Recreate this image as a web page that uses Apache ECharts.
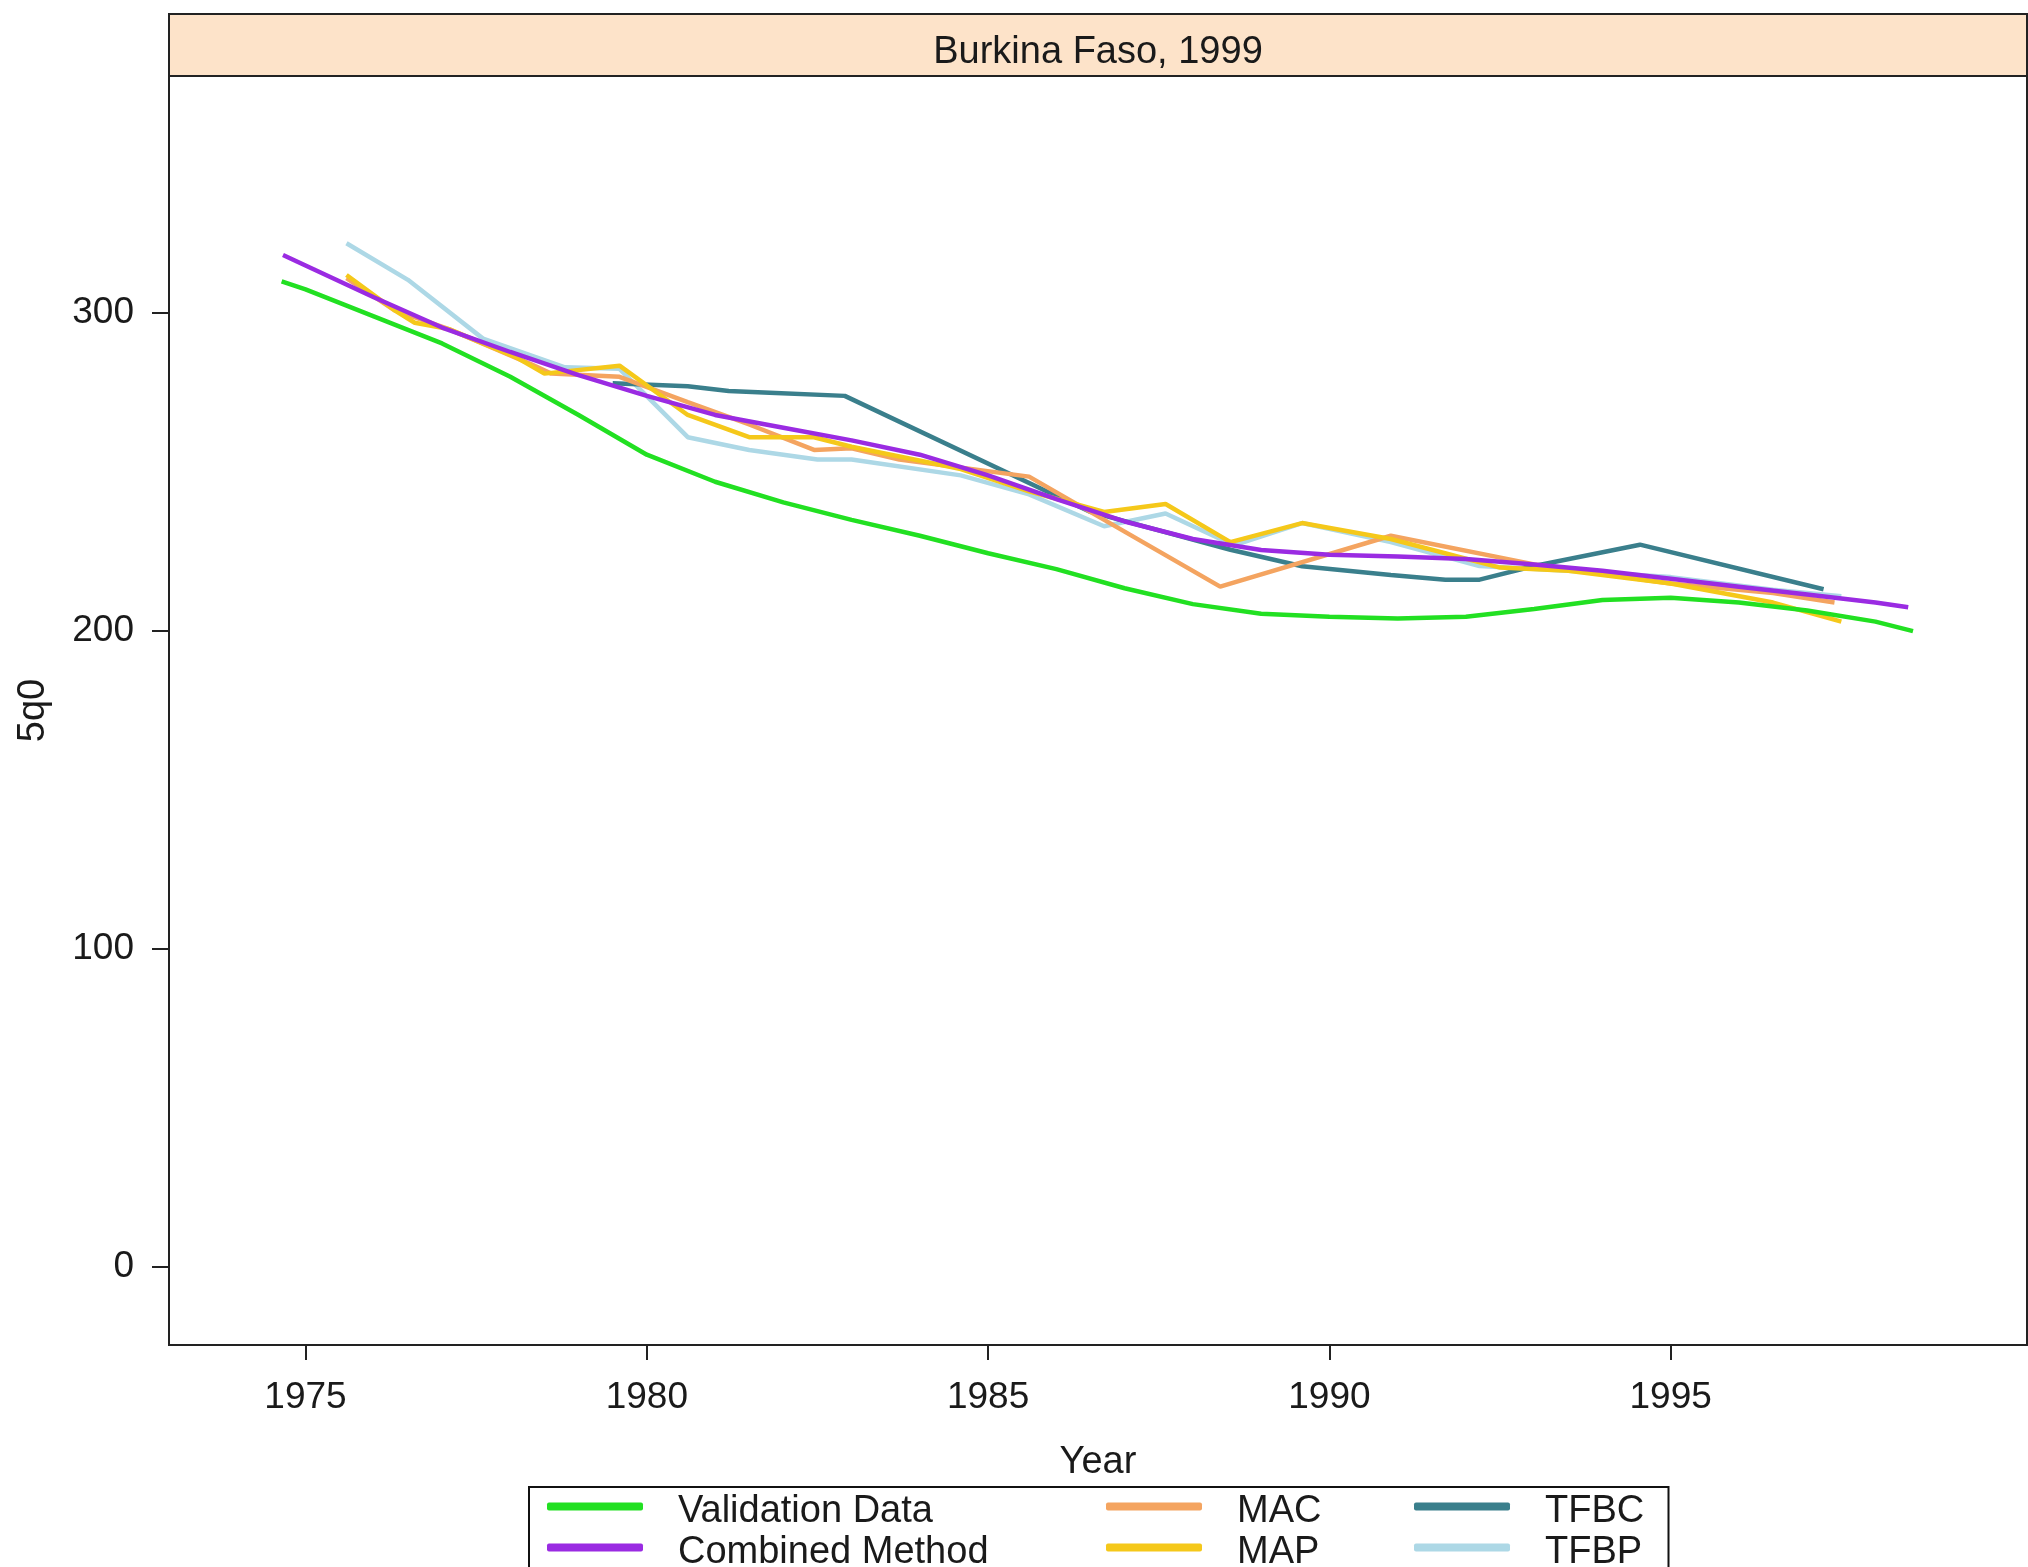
<!DOCTYPE html>
<html>
<head>
<meta charset="utf-8">
<script src="https://cdn.jsdelivr.net/npm/echarts@6/dist/echarts.min.js"></script>
<style>
html,body{margin:0;padding:0;background:#fff;}
#chart{width:2028px;height:1567px;}
</style>
</head>
<body>
<div id="chart"></div>
<script>
// ---------- DATA ----------
const panelTitle = 'Burkina Faso, 1999';
const xTickValues = [1975, 1980, 1985, 1990, 1995];
const yTickValues = [0, 100, 200, 300];

const validationYears  = [1974.65, 1975, 1976, 1977, 1978, 1979, 1980, 1981, 1982, 1983, 1984, 1985, 1986, 1987, 1988, 1989, 1990, 1991, 1992, 1993, 1994, 1995, 1996, 1997, 1998, 1998.55];
const validationValues = [310, 307.5, 299, 290.5, 280, 268, 255.5, 247, 240.5, 235, 230, 224.5, 219.5, 213.5, 208.5, 205.5, 204.5, 204, 204.5, 207, 209.8, 210.5, 209, 206.5, 203, 200];

const combinedYears  = [1974.67, 1975, 1976, 1977, 1978, 1979, 1980, 1981, 1982, 1983, 1984, 1985, 1986, 1987, 1988, 1989, 1990, 1991, 1992, 1993, 1994, 1995, 1996, 1997, 1998, 1998.48];
const combinedValues = [318.3, 315, 305, 295.5, 287.8, 280.5, 274, 268, 264, 260, 255.5, 249, 241.5, 234.5, 229, 225.5, 224, 223.5, 222.7, 221, 219, 216.5, 214, 211.5, 209, 207.5];

const macYears  = [1975.6, 1976.3, 1977.1, 1978.3, 1978.6, 1979.6, 1980.6, 1981.5, 1982.45, 1983.0, 1983.7, 1985.6, 1988.4, 1990.9, 1993.0, 1995.0, 1996.5, 1997.4];
const macValues = [311, 301, 295, 284, 281, 280, 272, 265, 257, 257.5, 254, 248.6, 214, 230, 221, 215, 212, 209];

const mapYears  = [1975.6, 1976.3, 1976.6, 1977.1, 1978.1, 1978.5, 1979.6, 1980.6, 1981.5, 1982.45, 1983.0, 1984.6, 1985.6, 1986.7, 1987.6, 1988.55, 1989.6, 1990.9, 1992.5, 1993.5, 1995.0, 1996.5, 1997.5];
const mapValues = [312, 301, 297, 295, 286, 281, 283.5, 268, 261, 261, 258, 251, 244, 237.5, 240, 228, 234, 229, 220, 219, 215, 209, 203];

const tfbcYears  = [1979.5, 1980.6, 1981.2, 1981.8, 1982.9, 1986.5, 1988.55, 1989.6, 1990.9, 1991.7, 1992.2, 1993.0, 1994.55, 1997.24];
const tfbcValues = [278, 277, 275.5, 275, 274, 237.5, 225.6, 220.4, 217.7, 216.2, 216.2, 220.5, 227.2, 213.2];

const tfbpYears  = [1975.6, 1976.5, 1977.6, 1978.8, 1979.6, 1980.6, 1981.5, 1982.5, 1983.0, 1984.6, 1985.6, 1986.7, 1987.6, 1988.6, 1989.6, 1990.9, 1992.2, 1993.5, 1995.0, 1996.5, 1997.5];
const tfbpValues = [322, 310.5, 292, 283, 282.5, 261, 257, 254, 254, 249, 243, 233, 237, 227, 234, 228, 220.5, 219, 217, 213, 211];

const seriesNames  = ['Validation Data', 'Combined Method', 'MAC', 'MAP', 'TFBC', 'TFBP'];
const seriesColors = ['#22e022', '#9a2be2', '#f4a460', '#f5c81a', '#3a7f8c', '#add8e6'];

// ---------- BUILD ----------
const zip = (xs, ys) => xs.map((x, i) => [x, ys[i]]);
const seriesData = {
  'Validation Data': zip(validationYears, validationValues),
  'Combined Method': zip(combinedYears, combinedValues),
  'MAC': zip(macYears, macValues),
  'MAP': zip(mapYears, mapValues),
  'TFBC': zip(tfbcYears, tfbcValues),
  'TFBP': zip(tfbpYears, tfbpValues)
};
const drawOrder = ['TFBP', 'TFBC', 'MAC', 'MAP', 'Validation Data', 'Combined Method'];

const FONT = "'Liberation Sans', Arial, sans-serif";
const TXT = '#1a1a1a';

const gridL = 169, gridT = 76, gridR = 2027, gridB = 1345;

const chart = echarts.init(document.getElementById('chart'), null, {renderer: 'canvas'});

// legend slots: column left (icon start) and row top
const legendColLeft = [547, 1106, 1414];
const legendRowTop = [1482.5, 1523.5];
const legendSlots = seriesNames.map((n, i) => ({
  name: n, left: legendColLeft[Math.floor(i / 2)], top: legendRowTop[i % 2]
}));

const option = {
  animation: false,
  backgroundColor: '#ffffff',
  color: seriesColors,
  textStyle: {fontFamily: FONT},
  grid: {
    left: gridL, top: gridT, width: gridR - gridL, height: gridB - gridT,
    show: true, borderColor: '#222', borderWidth: 2, backgroundColor: '#fff'
  },
  xAxis: {
    type: 'value', min: 1973, max: 2000.22,
    name: 'Year', nameLocation: 'middle', nameGap: 99,
    nameTextStyle: {fontFamily: FONT, fontSize: 38, color: TXT, lineHeight: 38},
    axisLine: {show: false, onZero: false},
    axisTick: {show: true, inside: false, length: 15, customValues: xTickValues, lineStyle: {color: '#222', width: 2}},
    axisLabel: {customValues: xTickValues, margin: 34, fontFamily: FONT, fontSize: 37, color: TXT, lineHeight: 37, formatter: v => String(v)},
    splitLine: {show: false}
  },
  yAxis: {
    type: 'value', min: -24.5, max: 374.6,
    name: '5q0', nameLocation: 'middle', nameGap: 116, nameRotate: 90,
    nameTextStyle: {fontFamily: FONT, fontSize: 38, color: TXT, lineHeight: 38},
    axisLine: {show: false, onZero: false},
    axisTick: {show: true, inside: false, length: 17, customValues: yTickValues, lineStyle: {color: '#222', width: 2}},
    axisLabel: {customValues: yTickValues, margin: 35, fontFamily: FONT, fontSize: 37, color: TXT, lineHeight: 37, formatter: v => String(v)},
    splitLine: {show: false}
  },
  legend: legendSlots.map(s => ({
    orient: 'horizontal', left: s.left, top: s.top, padding: 0, itemGap: 0,
    itemWidth: 96, itemHeight: 8, icon: 'roundRect', selectedMode: false,
    data: [s.name],
    formatter: name => '{n|' + name + '}',
    textStyle: {
      fontFamily: FONT, fontSize: 38, color: TXT,
      rich: {n: {fontFamily: FONT, fontSize: 38, color: TXT, lineHeight: 41, padding: [10, 0, 0, 30]}}
    }
  })),
  graphic: [
    {type: 'rect', z: 10, shape: {x: gridL, y: 14, width: gridR - gridL, height: gridT - 14},
      style: {fill: '#fde3c9', stroke: '#222', lineWidth: 2}},
    {type: 'text', z: 11, x: (gridL + gridR) / 2, y: 53,
      style: {text: panelTitle, font: "38px 'Liberation Sans', Arial, sans-serif", fill: TXT, textAlign: 'center', textVerticalAlign: 'middle'}},
    {type: 'rect', z: 10, shape: {x: 529, y: 1487, width: 1139.5, height: 120},
      style: {fill: 'none', stroke: '#111', lineWidth: 2}}
  ],
  series: drawOrder.map(name => ({
    name: name, type: 'line', data: seriesData[name],
    color: seriesColors[seriesNames.indexOf(name)],
    showSymbol: false, symbol: 'none', smooth: false,
    lineStyle: {width: 4.5, color: seriesColors[seriesNames.indexOf(name)]},
    emphasis: {disabled: true}
  }))
};
chart.setOption(option);
</script>
</body>
</html>
